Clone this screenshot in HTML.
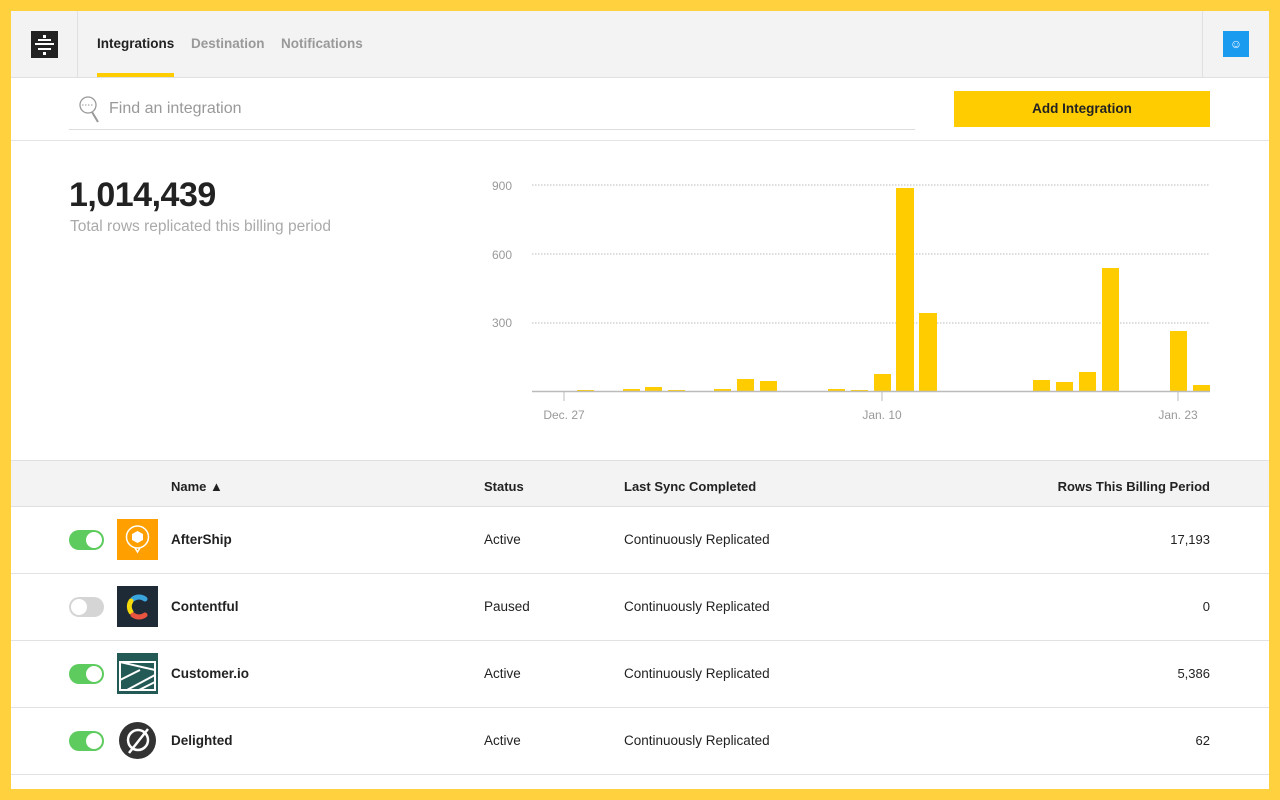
<!DOCTYPE html>
<html><head><style>
*{margin:0;padding:0;box-sizing:border-box}
body{width:1280px;height:800px;background:#ffd13f;font-family:"Liberation Sans",sans-serif;position:relative;overflow:hidden}
#app{position:absolute;left:11px;top:11px;width:1258px;height:778px;background:#fff;overflow:hidden}
.hdr{position:absolute;left:0;top:0;width:1258px;height:67px;background:#f3f3f3;border-bottom:1px solid #e0e0e0}
.abs{position:absolute}
.tab{position:absolute;top:25px;font-size:13.5px;font-weight:bold;color:#999}
.th{position:absolute;top:18px;font-size:13px;font-weight:bold;color:#222}
.row{position:absolute;left:0;width:1258px;height:67px;border-bottom:1px solid #e2e2e2;font-size:13.5px;color:#222}
.row .c{position:absolute;top:25px}
.tog{position:absolute;left:58px;top:23px;width:35px;height:20px;border-radius:10px;background:#5ecb5e}
.tog::after{content:"";position:absolute;right:2px;top:2px;width:16px;height:16px;border-radius:50%;background:#fff}
.tog.off{background:#d5d5d5}.tog.off::after{right:auto;left:2px}
.logo{position:absolute;left:106px;top:12px;width:41px;height:41px}
</style></head><body>
<div id="app">
<div class="hdr">
 <div class="abs" style="left:66px;top:0;width:1px;height:67px;background:#e0e0e0"></div>
 <div class="abs" style="left:20px;top:20px;width:27px;height:27px;background:#222">
  <div class="abs" style="left:4px;top:12px;width:19px;height:2px;background:#fff"></div>
  <div class="abs" style="left:12px;top:4px;width:3px;height:3px;background:#fff"></div>
  <div class="abs" style="left:7px;top:8px;width:13px;height:2px;background:#fff"></div>
  <div class="abs" style="left:7px;top:17px;width:13px;height:2px;background:#fff"></div>
  <div class="abs" style="left:12px;top:21px;width:3px;height:3px;background:#fff"></div>
 </div>
 <div class="tab" style="left:86px;color:#222">Integrations</div>
 <div class="abs" style="left:86px;top:62px;width:77px;height:4px;background:#ffcc00"></div>
 <div class="tab" style="left:180px">Destination</div>
 <div class="tab" style="left:270px">Notifications</div>
 <div class="abs" style="left:1191px;top:0;width:1px;height:67px;background:#e0e0e0"></div>
 <div class="abs" style="left:1212px;top:20px;width:26px;height:26px;background:#1a9bf0;color:#fff;font-size:12px;text-align:center;line-height:26px">☺</div>
</div>
<svg class="abs" style="left:66px;top:84px" width="24" height="30"><circle cx="11" cy="10" r="8" fill="none" stroke="#999" stroke-width="1.3"/><line x1="15" y1="17" x2="21" y2="27" stroke="#999" stroke-width="2"/><line x1="5" y1="10" x2="17" y2="10" stroke="#999" stroke-dasharray="1.5 1.5"/></svg>
<div class="abs" style="left:98px;top:89px;font-size:16px;color:#999">Find an integration</div>
<div class="abs" style="left:58px;top:118px;width:846px;height:1px;background:#ddd"></div>
<div class="abs" style="left:943px;top:80px;width:256px;height:36px;background:#ffcc00;font-size:13.5px;font-weight:bold;text-align:center;line-height:36px;color:#222">Add Integration</div>
<div class="abs" style="left:0;top:129px;width:1258px;height:1px;background:#e4e4e4"></div>
<div class="abs" style="left:58px;top:165px;font-size:34px;font-weight:bold;color:#222;letter-spacing:-0.5px">1,014,439</div>
<div class="abs" style="left:59px;top:207px;font-size:15.5px;color:#aaa">Total rows replicated this billing period</div>
<svg class="abs" style="left:0;top:0" width="1258" height="440">
 <g font-family="Liberation Sans" font-size="12" fill="#999">
 <text x="501" y="179" text-anchor="end">900</text><text x="501" y="248" text-anchor="end">600</text><text x="501" y="316" text-anchor="end">300</text>
 <text x="553" y="408" text-anchor="middle">Dec. 27</text><text x="871" y="408" text-anchor="middle">Jan. 10</text><text x="1167" y="408" text-anchor="middle">Jan. 23</text>
 </g>
 <g stroke="#bbb" stroke-dasharray="1.5 1.5"><line x1="521" y1="174" x2="1199" y2="174"/><line x1="521" y1="243" x2="1199" y2="243"/><line x1="521" y1="312" x2="1199" y2="312"/></g>
 <g fill="#ffcc00" transform="translate(8,0)">
  <rect x="558" y="379" width="17" height="1"/><rect x="604" y="378" width="17" height="2"/><rect x="626" y="376" width="17" height="4"/><rect x="649" y="379" width="17" height="1"/>
  <rect x="695" y="378" width="17" height="2"/><rect x="718" y="368" width="17" height="12"/><rect x="741" y="370" width="17" height="10"/>
  <rect x="809" y="378" width="17" height="2"/><rect x="832" y="379" width="17" height="1"/><rect x="855" y="363" width="17" height="17"/>
  <rect x="877" y="177" width="18" height="203"/><rect x="900" y="302" width="18" height="78"/>
  <rect x="1014" y="369" width="17" height="11"/><rect x="1037" y="371" width="17" height="9"/><rect x="1060" y="361" width="17" height="19"/><rect x="1083" y="257" width="17" height="123"/>
  <rect x="1151" y="320" width="17" height="60"/><rect x="1174" y="374" width="17" height="6"/>
 </g>
 <line x1="521" y1="380.5" x2="1199" y2="380.5" stroke="#bbb" stroke-width="1.5"/>
 <g stroke="#bbb"><line x1="553" y1="381" x2="553" y2="390"/><line x1="871" y1="381" x2="871" y2="390"/><line x1="1167" y1="381" x2="1167" y2="390"/></g>
</svg>
<div class="abs" style="left:0;top:449px;width:1258px;height:47px;background:#f3f3f3;border-top:1px solid #e0e0e0;border-bottom:1px solid #e0e0e0">
 <div class="th" style="left:160px">Name ▲</div><div class="th" style="left:473px">Status</div><div class="th" style="left:613px">Last Sync Completed</div><div class="th" style="right:59px">Rows This Billing Period</div>
</div>
<div class="row" style="top:496px"><div class="tog"></div>
 <div class="logo" style="background:#ffa000"><svg width="41" height="41"><circle cx="20.5" cy="18" r="11" fill="none" stroke="#fff" stroke-width="1.5"/><path d="M15 15l5.5-3 5.5 3v6l-5.5 3-5.5-3z" fill="#fff"/><path d="M18 29l2.5 4 2.5-4" fill="none" stroke="#fff" stroke-width="1.5"/></svg></div>
 <div class="c" style="left:160px;font-weight:bold">AfterShip</div><div class="c" style="left:473px">Active</div><div class="c" style="left:613px">Continuously Replicated</div><div class="c" style="right:59px;font-size:13px">17,193</div></div>
<div class="row" style="top:563px"><div class="tog off"></div>
 <div class="logo" style="background:#1f2a37"><svg width="41" height="41"><path d="M28 13a10 10 0 0 0-12 0" stroke="#3aa5dd" stroke-width="5" fill="none" stroke-linecap="round"/><path d="M14 15a10 10 0 0 0 0 11" stroke="#f5d90a" stroke-width="5" fill="none" stroke-linecap="round"/><path d="M16 29a10 10 0 0 0 12 0" stroke="#e8543f" stroke-width="5" fill="none" stroke-linecap="round"/></svg></div>
 <div class="c" style="left:160px;font-weight:bold">Contentful</div><div class="c" style="left:473px">Paused</div><div class="c" style="left:613px">Continuously Replicated</div><div class="c" style="right:59px;font-size:13px">0</div></div>
<div class="row" style="top:630px"><div class="tog"></div>
 <div class="logo" style="background:#235a55"><svg width="41" height="41"><path d="M3 9h35v28H3z" fill="none" stroke="#fff" stroke-width="2"/><path d="M3 9l35 8M3 27l20-10M10 37l28-15M22 37l16-8" stroke="#fff" stroke-width="2"/></svg></div>
 <div class="c" style="left:160px;font-weight:bold">Customer.io</div><div class="c" style="left:473px">Active</div><div class="c" style="left:613px">Continuously Replicated</div><div class="c" style="right:59px;font-size:13px">5,386</div></div>
<div class="row" style="top:697px"><div class="tog"></div>
 <div class="logo"><svg width="41" height="41"><circle cx="20.5" cy="20.5" r="18.5" fill="#333"/><circle cx="21" cy="20" r="10" fill="none" stroke="#fff" stroke-width="2.5"/><line x1="12" y1="33" x2="31" y2="9" stroke="#fff" stroke-width="2.5"/></svg></div>
 <div class="c" style="left:160px;font-weight:bold">Delighted</div><div class="c" style="left:473px">Active</div><div class="c" style="left:613px">Continuously Replicated</div><div class="c" style="right:59px;font-size:13px">62</div></div>
</div>
</body></html>
